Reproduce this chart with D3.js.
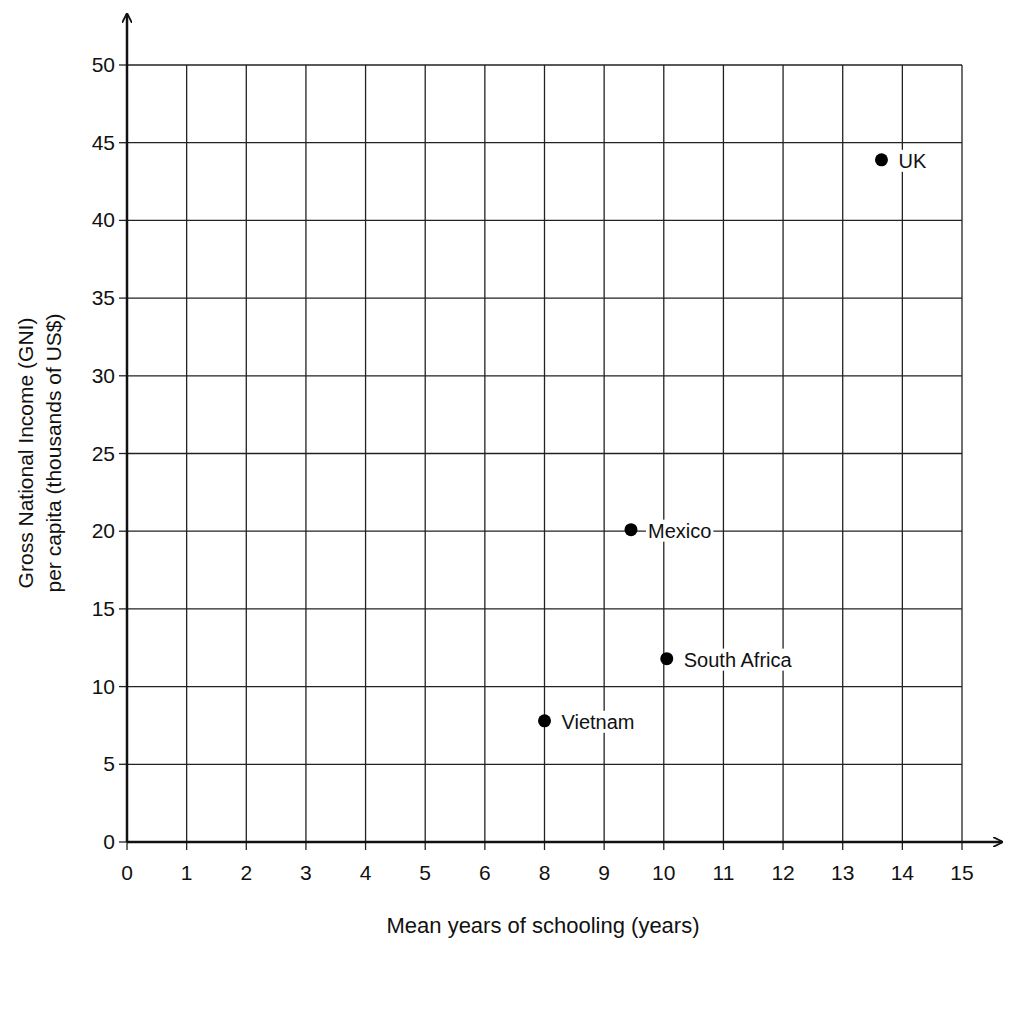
<!DOCTYPE html>
<html><head><meta charset="utf-8">
<script src="https://cdn.jsdelivr.net/npm/d3@7"></script>
<style>body{margin:0;background:#fff}text{font-family:"Liberation Sans",Arial,sans-serif;fill:#111}</style>
</head><body>
<script>
var xTicks = [0,1,2,3,4,5,6,8,9,10,11,12,13,14,15];
var yTicks = [0,5,10,15,20,25,30,35,40,45,50];
var countries = ["Vietnam","South Africa","Mexico","UK"];
var schooling = [8, 10.05, 9.45, 13.65];
var gni = [7.8, 11.8, 20.1, 43.9];

var svg = d3.select("body").append("svg").attr("width",1024).attr("height",1024);
var x0 = 127, x1 = 962, y0 = 842, y1 = 65;
var step = (x1-x0)/(xTicks.length-1);
var x = d3.scaleLinear().domain(xTicks).range(xTicks.map(function(d,i){return x0+i*step;}));
var y = d3.scaleLinear().domain([0,50]).range([y0,y1]);

var g = svg.append("g");
g.selectAll(".vg").data(xTicks.slice(1)).enter().append("line")
  .attr("x1",x).attr("x2",x).attr("y1",y0).attr("y2",y1).attr("stroke","#222").attr("stroke-width",1.3);
g.selectAll(".hg").data(yTicks.slice(1)).enter().append("line")
  .attr("x1",x0).attr("x2",x1).attr("y1",y).attr("y2",y).attr("stroke","#222").attr("stroke-width",1.3);

// tick marks + labels
g.selectAll(".xt").data(xTicks).enter().append("line")
  .attr("x1",x).attr("x2",x).attr("y1",y0).attr("y2",y0+8).attr("stroke","#222").attr("stroke-width",1.3);
g.selectAll(".xl").data(xTicks).enter().append("text")
  .attr("x",x).attr("y",y0+38).attr("text-anchor","middle").attr("font-size",21).text(function(d){return d;});
g.selectAll(".yt").data(yTicks).enter().append("line")
  .attr("x1",x0-8).attr("x2",x0).attr("y1",y).attr("y2",y).attr("stroke","#222").attr("stroke-width",1.3);
g.selectAll(".yl").data(yTicks).enter().append("text")
  .attr("x",x0-12).attr("y",function(d){return y(d)+7;}).attr("text-anchor","end").attr("font-size",21).text(function(d){return d;});

// axes with arrows
svg.append("defs").append("marker").attr("id","arr").attr("viewBox","0 0 10 10").attr("refX",9).attr("refY",5)
  .attr("markerWidth",10).attr("markerHeight",10).attr("markerUnits","userSpaceOnUse").attr("orient","auto")
  .append("path").attr("d","M0,0 L10,5 L0,10").attr("fill","none").attr("stroke","#111").attr("stroke-width",1.8);
svg.append("line").attr("x1",x0).attr("x2",1002).attr("y1",y0).attr("y2",y0).attr("stroke","#111").attr("stroke-width",2.5).attr("marker-end","url(#arr)");
svg.append("line").attr("x1",x0).attr("x2",x0).attr("y1",y0).attr("y2",14).attr("stroke","#111").attr("stroke-width",2.5).attr("marker-end","url(#arr)");

// points
var pts = svg.selectAll(".p").data(countries).enter().append("g");
pts.append("text").attr("x",function(d,i){return x(schooling[i])+17;}).attr("y",function(d,i){return y(gni[i])+8;})
  .attr("font-size",20).text(function(d){return d;})
  .each(function(){var b=this.getBBox();d3.select(this.parentNode).insert("rect","text")
    .attr("x",b.x-2).attr("y",b.y).attr("width",b.width+4).attr("height",b.height).attr("fill","#fff");});
pts.append("circle").attr("cx",function(d,i){return x(schooling[i]);}).attr("cy",function(d,i){return y(gni[i]);})
  .attr("r",6.5).attr("fill","#000");

svg.append("text").attr("x",543).attr("y",933).attr("text-anchor","middle").attr("font-size",22).text("Mean years of schooling (years)");
svg.append("text").attr("transform","translate(33,453) rotate(-90)").attr("text-anchor","middle").attr("font-size",21).text("Gross National Income (GNI)");
svg.append("text").attr("transform","translate(61,453) rotate(-90)").attr("text-anchor","middle").attr("font-size",21).text("per capita (thousands of US$)");
</script>
</body></html>
